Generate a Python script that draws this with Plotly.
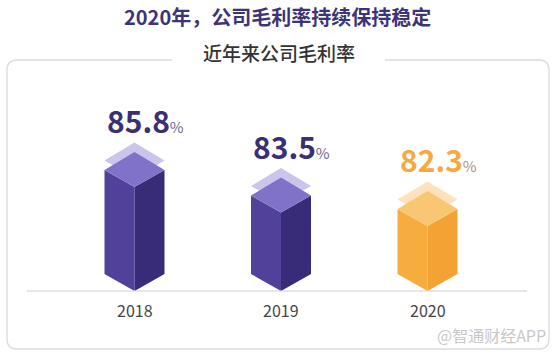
import plotly.graph_objects as go

# ---- data ----
years = ["2018", "2019", "2020"]
margin_pct = [85.8, 83.5, 82.3]

# ---- style ----
W, H = 554, 356
FONT = "Noto Sans CJK SC"
PX_X = 146.5          # pixels per category step
X0_PX = 134.5         # pixel position of first category
PX_Y = 11.14          # pixels per percentage point
FLOOR = 76.46         # value at the baseline
BASE_PX = 291
HW = 30 / PX_X        # bar half width (x units)
DS = 17 / PX_Y        # side vertex rise
DB = 35 / PX_Y        # back vertex rise
FS = 9.5 / PX_Y       # floating plate shift

purple = dict(left="#51419b", right="#382c78", top="#7f72c8", plate="#cbc4ec",
              label="#3b2f74", pct="#6e6890")
orange = dict(left="#f7ad3d", right="#f2a333", top="#f9c674", plate="#fde2bb",
              label="#f5a93f", pct="#a8957a")
palettes = [purple, purple, orange]

xr = [-X0_PX / PX_X, (W - X0_PX) / PX_X]
yr = [FLOOR - (H - BASE_PX) / PX_Y, FLOOR + BASE_PX / PX_Y]

fig = go.Figure()


def poly(xs, ys, color):
    fig.add_trace(go.Scatter(x=xs + [xs[0]], y=ys + [ys[0]], fill="toself",
                             fillcolor=color, mode="lines",
                             line=dict(width=0, color=color),
                             hoverinfo="skip", showlegend=False))


for i, (yr_lbl, v) in enumerate(zip(years, margin_pct)):
    c = palettes[i]
    # floating plate
    poly([i - HW, i, i + HW, i],
         [v + DS + FS, v + DB + FS, v + DS + FS, v + FS], c["plate"])
    # left face
    poly([i - HW, i, i, i - HW],
         [v + DS, v, FLOOR, FLOOR + DS], c["left"])
    # right face
    poly([i, i + HW, i + HW, i],
         [v, v + DS, FLOOR + DS, FLOOR], c["right"])
    # top face
    poly([i - HW, i, i + HW, i],
         [v + DS, v + DB, v + DS, v], c["top"])
    # value label
    fig.add_annotation(x=i + 10.5 / PX_X, y=v, yshift=67, xref="x", yref="y",
                       text=f"<b>{v}</b><span style='font-size:15px;color:{c['pct']}'>%</span>",
                       showarrow=False, yanchor="middle", xanchor="center",
                       font=dict(family=FONT, size=30, color=c["label"]))
    # year label
    fig.add_annotation(x=i, y=FLOOR, yshift=-19, xref="x", yref="y",
                       text=yr_lbl, showarrow=False, yanchor="middle",
                       xanchor="center",
                       font=dict(family=FONT, size=16, color="#444444"))


def P(px, py):
    return px / W, 1 - py / H


def pt(px, py):
    x, y = P(px, py)
    return f"{x:.5f},{y:.5f}"


# card with gap for subtitle
L, R, T, B, r = 7, 549, 60, 349, 10
path = (f"M{pt(172, T)} L{pt(L + r, T)} Q{pt(L, T)} {pt(L, T + r)} "
        f"L{pt(L, B - r)} Q{pt(L, B)} {pt(L + r, B)} "
        f"L{pt(R - r, B)} Q{pt(R, B)} {pt(R, B - r)} "
        f"L{pt(R, T + r)} Q{pt(R, T)} {pt(R - r, T)} L{pt(385, T)}")
fig.add_shape(type="path", path=path, xref="paper", yref="paper",
              line=dict(color="#dcdcdc", width=1.3))

# baseline
fig.add_shape(type="line", xref="paper", yref="y", x0=27 / W, x1=527 / W,
              y0=FLOOR, y1=FLOOR, line=dict(color="#cfcfcf", width=1.2))

# titles
x, y = P(277, 16)
fig.add_annotation(x=x, y=y, xref="paper", yref="paper", showarrow=False,
                   xanchor="center", yanchor="middle",
                   text="<b>2020年，公司毛利率持续保持稳定</b>",
                   font=dict(family=FONT, size=20, color="#3d3477"))
x, y = P(279, 53)
fig.add_annotation(x=x, y=y, xref="paper", yref="paper", showarrow=False,
                   xanchor="center", yanchor="middle",
                   text="近年来公司毛利率",
                   font=dict(family=FONT, size=19, color="#333333", weight=500))
x, y = P(548, 335)
fig.add_annotation(x=x, y=y, xref="paper", yref="paper", showarrow=False,
                   xanchor="right", yanchor="middle", text="@智通财经APP",
                   font=dict(family=FONT, size=16, color="#c8c8c8"))

fig.update_layout(width=W, height=H, margin=dict(l=0, r=0, t=0, b=0),
                  paper_bgcolor="white", plot_bgcolor="white",
                  xaxis=dict(range=xr, visible=False, fixedrange=True),
                  yaxis=dict(range=yr, visible=False, fixedrange=True),
                  showlegend=False)

fig.write_html("out.html", config={"displayModeBar": False},
               post_script="document.body.style.margin='0';document.body.style.overflow='hidden';")
